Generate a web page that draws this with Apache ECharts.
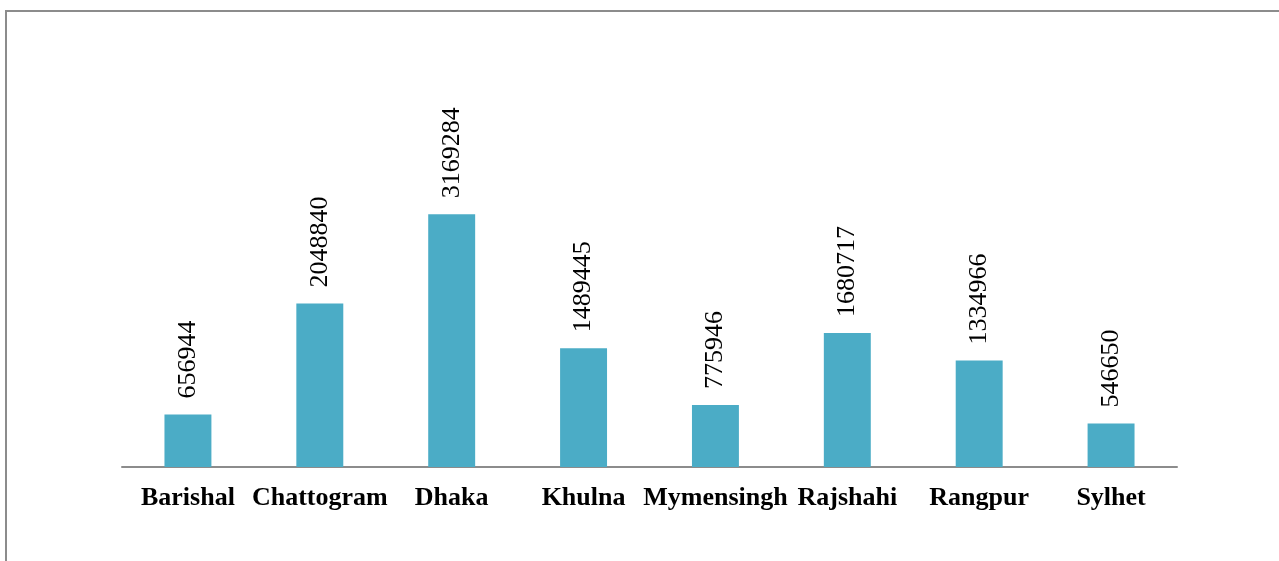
<!DOCTYPE html>
<html>
<head>
<meta charset="utf-8">
<script src="https://cdn.jsdelivr.net/npm/echarts@6/dist/echarts.min.js"></script>
<style>
    html, body { margin: 0; padding: 0; background: #fff; }
    #chart { width: 1279px; height: 561px; }
</style>
</head>
<body>
<div id="chart"></div>
<script>
    // divisions and their values
    const divisions = ['Barishal', 'Chattogram', 'Dhaka', 'Khulna', 'Mymensingh', 'Rajshahi', 'Rangpur', 'Sylhet'];
    const values = [656944, 2048840, 3169284, 1489445, 775946, 1680717, 1334966, 546650];

    const serif = '"Liberation Serif", "Times New Roman", serif';
    const chart = echarts.init(document.getElementById('chart'));

    chart.setOption({
        animation: false,
        // outer frame, only top and left edges show
        graphic: [{
            type: 'rect',
            shape: { x: 6, y: 11, width: 1400, height: 700 },
            style: { fill: 'none', stroke: '#8c8c8c', lineWidth: 2 },
            silent: true
        }],
        grid: {
            left: 122,
            right: 102,
            top: 148,
            bottom: 94
        },
        xAxis: {
            type: 'category',
            data: divisions,
            axisLine: { lineStyle: { color: '#8c8c8c', width: 2 } },
            axisTick: { show: false },
            axisLabel: {
                interval: 0,
                margin: 18,
                color: '#000',
                fontFamily: serif,
                fontWeight: 'bold',
                fontSize: 26
            }
        },
        yAxis: {
            type: 'value',
            min: 0,
            max: 4000000,
            show: false,
            splitLine: { show: false }
        },
        series: [{
            type: 'bar',
            data: values,
            barWidth: '35.6%',
            itemStyle: { color: '#4bacc6' },
            label: {
                show: true,
                position: 'top',
                distance: 16,
                rotate: 90,
                align: 'left',
                verticalAlign: 'middle',
                color: '#000',
                fontFamily: serif,
                fontSize: 26
            }
        }]
    });
</script>
</body>
</html>
